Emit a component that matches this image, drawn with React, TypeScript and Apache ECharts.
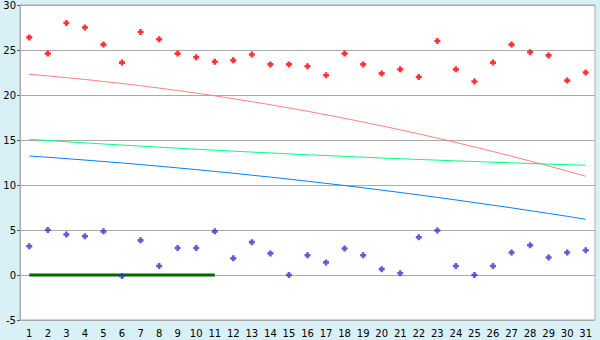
import React, { useEffect, useRef } from "react";
import * as echarts from "echarts";

const categories = Array.from({ length: 31 }, (_, i) => String(i + 1));

const redPoints = [26.4, 24.6, 28.0, 27.5, 25.6, 23.6, 27.0, 26.2, 24.6, 24.2, 23.7, 23.85, 24.5, 23.4, 23.4, 23.2, 22.2, 24.6, 23.4, 22.4, 22.85, 22.0, 26.0, 22.85, 21.5, 23.6, 25.6, 24.75, 24.4, 21.6, 22.5];
const bluePoints = [3.2, 5.0, 4.5, 4.3, 4.85, -0.1, 3.85, 1.0, 3.0, 3.0, 4.85, 1.85, 3.65, 2.4, 0.0, 2.2, 1.4, 2.95, 2.2, 0.65, 0.2, 4.2, 4.95, 1.0, 0.0, 1.0, 2.5, 3.3, 1.95, 2.5, 2.75];
const redTrend = [22.3, 22.12, 21.93, 21.73, 21.51, 21.28, 21.03, 20.77, 20.5, 20.21, 19.91, 19.59, 19.26, 18.92, 18.56, 18.19, 17.81, 17.41, 16.99, 16.57, 16.13, 15.68, 15.21, 14.73, 14.23, 13.72, 13.2, 12.66, 12.11, 11.55, 10.97];
const greenTrend = [15.07, 14.94, 14.81, 14.68, 14.56, 14.44, 14.32, 14.2, 14.09, 13.97, 13.87, 13.76, 13.66, 13.56, 13.46, 13.36, 13.27, 13.18, 13.09, 13.0, 12.92, 12.84, 12.76, 12.68, 12.61, 12.53, 12.46, 12.39, 12.32, 12.26, 12.19];
const blueTrend = [13.22, 13.08, 12.93, 12.77, 12.61, 12.45, 12.27, 12.09, 11.9, 11.71, 11.51, 11.31, 11.09, 10.88, 10.65, 10.42, 10.18, 9.94, 9.69, 9.43, 9.17, 8.9, 8.62, 8.34, 8.05, 7.76, 7.46, 7.15, 6.84, 6.52, 6.19];
const zeroLine = [0, 0, 0, 0, 0, 0, 0, 0, 0, 0, 0, null, null, null, null, null, null, null, null, null, null, null, null, null, null, null, null, null, null, null, null];

const markerPath = "path://M2,0H5V2H7V5H5V7H2V5H0V2H2Z";

export default function App() {
  const ref = useRef<HTMLDivElement>(null);
  useEffect(() => {
    if (!ref.current) return;
    const chart = echarts.init(ref.current, null, { renderer: "svg" });
    const font = "DejaVu Sans, Verdana, sans-serif";
    chart.setOption({
      animation: false,
      backgroundColor: "#D9F0F6",
      grid: {
        left: 20,
        right: 5,
        top: 5,
        bottom: 20,
        show: true,
        backgroundColor: "#FFFFFF",
        borderColor: "#AAAAAA",
        borderWidth: 1,
      },
      xAxis: {
        type: "category",
        data: categories,
        boundaryGap: true,
        axisLine: { lineStyle: { color: "#AAAAAA", width: 1 } },
        axisTick: { alignWithLabel: true, length: 5, lineStyle: { color: "#555555" } },
        axisLabel: { color: "#000", fontSize: 10, fontFamily: font, margin: 8, interval: 0 },
        splitLine: { show: false },
      },
      yAxis: {
        type: "value",
        min: -5,
        max: 30,
        interval: 5,
        axisLine: { show: true, lineStyle: { color: "#AAAAAA", width: 1 } },
        axisTick: { show: true, length: 3, lineStyle: { color: "#555555" } },
        axisLabel: { color: "#000", fontSize: 10, fontFamily: font, margin: 4 },
        splitLine: { show: true, lineStyle: { color: "#AAAAAA", width: 1 } },
      },
      series: [
        { type: "line", data: redTrend, symbol: "none", lineStyle: { color: "#FF8080", width: 1 }, z: 2 },
        { type: "line", data: greenTrend, symbol: "none", lineStyle: { color: "#00FF80", width: 1 }, z: 2 },
        { type: "line", data: blueTrend, symbol: "none", lineStyle: { color: "#0080FF", width: 1 }, z: 2 },
        { type: "line", data: zeroLine, symbol: "none", lineStyle: { color: "#006600", width: 3 }, z: 3 },
        { type: "scatter", data: redPoints, symbol: markerPath, symbolSize: 6, itemStyle: { color: "#FF0000" }, z: 4 },
        { type: "scatter", data: bluePoints, symbol: markerPath, symbolSize: 6, itemStyle: { color: "#3333CC" }, z: 4 },
      ],
    });
    return () => chart.dispose();
  }, []);
  return (
    <div
      ref={ref}
      style={{ position: "absolute", left: 0, top: 0, width: 600, height: 340 }}
    />
  );
}
